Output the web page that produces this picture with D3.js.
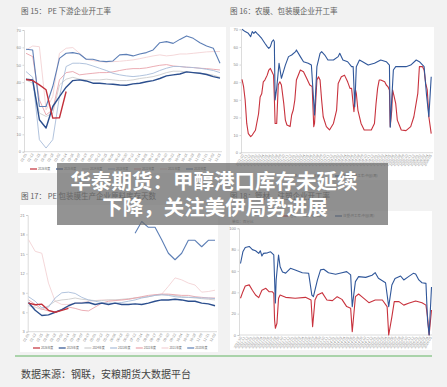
<!DOCTYPE html>
<html>
  <head>
    <meta charset="utf-8">
    <style>
    body {
      margin: 0;
      background: #f2f2f2;
    }
    svg {
      display: block;
      font-family: "Noto Sans CJK SC", "Noto Sans", sans-serif;
    }
    </style>
  </head>
  <body>
    <script src="https://d3js.org/d3.v7.min.js"></script>
    <script>
    var width = 447,
      height = 387;

    // ---------- data ----------
    var yearNames = ["2026年度", "2025年度", "2024年度", "2023年度", "2022年度", "2021年度", "2020年度"];
    var dateTicks = ["01-01","01-13","01-25","02-06","02-18","03-02","03-14","03-26","04-07","04-19",
      "05-01","05-13","05-25","06-06","06-18","06-30","07-12","07-24","08-05","08-17",
      "08-29","09-10","09-22","10-04","10-16","10-28","11-09","11-21","12-03","12-15"];
    var monthTicks = ["2021-10","2021-11","2021-12",
      "2022-01","2022-02","2022-03","2022-04","2022-05","2022-06","2022-07","2022-08","2022-09","2022-10","2022-11","2022-12",
      "2023-01","2023-02","2023-03","2023-04","2023-05","2023-06","2023-07","2023-08","2023-09","2023-10","2023-11","2023-12",
      "2024-01","2024-02","2024-03","2024-04","2024-05","2024-06","2024-07","2024-08","2024-09","2024-10","2024-11","2024-12",
      "2025-01","2025-02","2025-03","2025-04","2025-05","2025-06","2025-07","2025-08","2025-09","2025-10","2025-11","2025-12",
      "2026-01","2026-02","2026-03","2026-04","2026-05"];

    // fig 15: PE downstream operating rate
    var pe2026 = [41.5, 40.9, 38.4, 35.6, 19.3, 19.5, 34.6];
    var pe2025 = [41.7, 41.3, 18.4, 13.6, 26.0, 31.7, 37.1, 40.9, 41.3, 40.7, 39.4, 39.4, 39.0, 38.8, 38.4, 38.2, 39.0, 39.4, 40.2, 40.9, 42.1, 43.6, 44.2, 44.7, 45.9, 45.5, 45.1, 44.4, 43.2, 42.3];
    var pe2024 = [41.3, 39.4, 22.2, 20.3, 22.0, 38.4, 41.7, 42.8, 41.7, 41.3, 41.3, 41.3, 41.7, 41.3, 40.9, 40.9, 41.3, 42.1, 42.6, 43.2, 44.2, 45.5, 46.3, 46.3, 45.9, 45.5, 45.1, 44.7, 44.0, 42.8];
    var pe2023 = [46.1, 42.8, 6.9, 2.1, 6.9, 31.7, 49.0, 50.9, 50.9, 50.5, 49.3, 48.0, 46.7, 45.1, 44.2, 43.6, 43.2, 43.6, 44.2, 45.1, 46.7, 48.0, 49.0, 49.0, 48.6, 48.4, 48.0, 47.4, 46.7, 45.5];
    var pe2022 = [56.6, 54.7, 29.8, 21.2, 24.1, 41.3, 45.5, 46.1, 44.2, 44.7, 45.1, 45.5, 45.5, 45.9, 46.7, 47.4, 47.8, 47.8, 48.2, 49.0, 49.7, 50.1, 49.3, 49.0, 48.6, 48.4, 48.0, 47.8, 47.4, 47.0];
    var pe2021 = [58.5, 60.8, 60.4, 24.1, 31.7, 56.6, 59.5, 59.9, 56.6, 53.2, 52.4, 51.8, 51.6, 51.8, 52.0, 52.4, 52.8, 53.5, 54.3, 55.1, 55.7, 55.1, 55.5, 56.2, 56.2, 56.6, 57.0, 57.4, 57.6, 57.6];
    var pe2020 = [58.9, 58.5, 26.0, 26.0, 37.5, 53.7, 56.6, 57.0, 56.2, 53.2, 53.2, 52.2, 51.8, 52.2, 55.7, 56.0, 55.1, 56.2, 57.0, 58.5, 62.7, 63.3, 62.3, 64.6, 66.6, 65.2, 62.7, 60.8, 59.5, 50.9];

    // fig 17: PE packaging film producers
    var pk2026 = [7.4, 7.15, 7.25, 6.3, 6.0, 6.3, 6.6];
    var pk2025 = [7.5, 6.3, 5.5, 5.6, 6.0, 6.4, 7.0, 7.4, 7.4, 7.5, 7.2, 7.4, 7.2, 7.4, 7.2, 7.2, 7.3, 7.2, 7.4, 7.7, 7.9, 7.9, 8.0, 7.9, 7.7, 7.7, 7.4, 7.3, 7.0];
    var pk2024 = [7.0, 6.8, 6.4, 7.0, 7.7, 7.9, 8.0, 8.2, 8.0, 7.9, 7.8, 7.8, 7.9, 7.9, 8.0, 8.1, 8.2, 8.3, 8.4, 8.6, 8.7, 8.7, 8.6, 8.4, 8.3, 8.2, 8.1, 8.0, 7.9];
    var pk2023 = [8.4, 7.7, 6.7, 6.8, 8.2, 9.0, 9.1, 8.9, 8.3, 7.9, 7.7, 7.5, 7.4, 7.4, 7.5, 7.7, 7.9, 8.2, 8.4, 8.6, 8.7, 8.6, 8.4, 8.3, 8.3, 8.3, 8.2, 8.2, 8.1];
    var pk2022 = [7.9, 7.2, 6.5, 6.2, 6.0, 6.4, 6.8, 6.6, 6.3, 6.2, 6.8, 7.4, 7.7, 7.8, 7.9, 8.0, 8.2, 8.4, 8.6, 8.7, 8.8, 8.8, 8.7, 8.6, 8.6, 8.4, 8.3, 8.2, 8.2];
    var pk2021 = [17.2, 15.4, 15.1, 10.5, 7.7, 7.2, 7.2, 7.4, 7.5, 7.7, 7.8, 7.9, 7.9, 7.9, 7.9, 8.0, 8.2, 8.3, 8.4, 8.7, 8.8, 10.0, 11.3, 11.0, 10.5, 10.2, 9.1, 9.2, 9.4];
    var pk2020 = [null, null, null, null, null, null, null, null, null, null, null, null, null, null, null, null, 18.2, 20.0, 19.1, 19.1, 17.2, 15.1, 14.1, 15.1, 17.1, 17.1, 16.1, 17.1, 17.1];

    // fig 16: agricultural film / packaging film (weekly, week index)
    var agriWeek = [0,2,4,6,8,11,13,17,21,23,25,27,29,32,34,36,38,40,41,42,44,46,48,50,53,55,57,61,63,65,67,69,74,78,82,86,89,91,92,95,97,99,101,103,107,111,116,120,122,126,130,134,137,139,142,144,145,147,151,155,164,168,170,172,174,176,181,183,185,187,188,190,191,193,195,197,202,208,214,218,223,225,229,231,233,235,237,240];
    var agriRate = [41.6,37.5,29.9,16.6,10.8,9.1,10.0,12.7,22.1,31.6,33.4,40.2,41.2,44.0,46.9,47.8,45.9,44.0,31.6,16.6,16.6,38.6,40.2,38.4,27.8,18.5,15.7,14.8,21.4,24.2,29.9,41.2,46.9,45.9,42.2,38.4,37.5,14.8,16.6,41.2,43.1,41.2,29.9,20.4,14.8,12.9,16.6,24.2,39.3,43.1,44.0,40.2,36.5,36.5,23.3,35.6,33.7,24.2,16.6,12.9,12.9,16.6,27.8,36.5,41.2,41.2,40.2,38.4,37.5,35.6,14.8,24.2,35.6,31.8,27.8,18.5,12.9,12.5,14.8,20.4,33.7,48.8,48.8,46.9,39.3,35.6,20.4,10.8];
    var packWeek = [0,4,8,11,13,15,17,19,21,25,29,32,34,36,38,40,41,42,44,47,50,55,59,63,68,69,74,78,84,88,92,95,99,101,105,109,116,122,124,128,134,139,141,143,145,149,153,160,168,176,183,187,188,192,195,202,208,214,221,225,231,234,237,240];
    var packRate = [70.0,68.7,67.7,65.8,68.7,67.7,68.7,67.7,66.8,64.8,62.1,60.2,59.2,60.2,63.0,64.0,63.0,29.9,36.5,50.7,42.2,49.7,54.5,55.4,57.3,58.3,54.5,51.6,50.7,49.7,21.4,48.8,56.4,57.3,55.4,52.6,52.6,54.5,56.4,52.6,51.6,48.8,48.8,26.1,48.8,52.6,51.6,49.7,50.7,52.6,51.6,49.7,14.4,46.9,48.8,48.8,48.8,49.7,52.6,51.6,48.8,33.0,20.4,43.1];

    // fig 18: pipe / injection (weekly, week index)
    var pipeWeek = [0,3,6,11,15,19,23,27,32,36,40,42,43,44,46,48,50,53,57,69,82,89,91,94,97,103,109,116,122,128,134,139,141,145,149,153,162,170,179,185,187,191,194,200,206,212,221,229,234,236,238,241];
    var pipeRate = [34.4,40.6,46.0,47.0,42.0,37.5,35.0,42.0,43.8,40.6,40.6,39.0,14.0,6.3,11.0,34.4,37.5,36.6,35.3,34.4,35.3,32.8,7.8,32.8,37.5,39.7,32.8,32.2,35.9,33.4,26.6,25.0,3.0,35.9,38.4,35.9,30.3,32.8,32.8,26.6,0,17.0,31.3,31.3,28.0,29.7,31.9,30.3,28.0,17.0,0,23.4];
    var injWeek = [0,3,6,11,15,19,23,25,27,29,34,38,42,44,45,48,50,53,57,63,69,78,86,90,92,97,101,105,111,120,128,134,139,141,145,149,158,166,170,174,183,187,191,195,202,206,212,218,221,225,229,234,236,238,241];
    var injRate = [67,78,82,83,80,79,76.5,79,74,76.5,77,78,75,30,51.5,75,64,59,58,62.5,61,58.4,57.8,37.5,36,51.5,61,61.6,58.4,56.9,58.4,59.4,56.3,26.6,50,54.7,54,56,58.4,53.1,49,26.6,46.9,53,55.3,51.6,54.7,57.8,57.2,51.6,49,48.4,14,0,45];

    // ---------- styles ----------
    var yearColors = ["#c3303a", "#2c4f8e", "#cdcdcd", "#a8bcd9", "#e9a4ac", "#f3d2d5", "#5d7fb6"];
    var yearWidths = [1.4, 1.4, 0.9, 0.9, 0.9, 0.9, 1.1];
    var drawOrder = [5, 2, 4, 3, 6, 1, 0];
    var red = "#c8323d", blue = "#30579a";

    var svg = d3.select("body").append("svg")
        .attr("width", width)
        .attr("height", height);

    svg.append("rect").attr("width", width).attr("height", height).attr("fill", "#f2f2f2");

    function panel(x, y, w, h) {
      svg.append("rect").attr("x", x).attr("y", y).attr("width", w).attr("height", h).attr("fill", "#fff");
    }

    function title(x, y, t) {
      svg.append("text").attr("x", x).attr("y", y)
        .attr("font-size", 7.5).attr("fill", "#606060").text(t);
    }

    function yAxis(scale, ticks, x) {
      var g = svg.append("g").attr("transform", "translate(" + x + ",0)")
        .call(d3.axisLeft(scale).tickValues(ticks).tickSize(1.5).tickPadding(1.5));
      g.select(".domain").attr("stroke", "#c4c4c4").attr("stroke-width", 0.6);
      g.selectAll(".tick line").attr("stroke", "#bbb").attr("stroke-width", 0.6);
      g.selectAll(".tick text").attr("font-size", 4).attr("fill", "#888");
    }

    function xAxis(pos, labels, y, x0, x1) {
      svg.append("line").attr("x1", x0).attr("x2", x1).attr("y1", y).attr("y2", y)
        .attr("stroke", "#c4c4c4").attr("stroke-width", 0.6);
      svg.append("g").selectAll("text").data(labels).join("text")
        .attr("transform", function(d, i){ return "translate(" + pos(i) + "," + (y + 2) + ") rotate(-60)"; })
        .attr("text-anchor", "end")
        .attr("dy", "0.35em")
        .attr("font-size", 3.5)
        .attr("fill", "#888")
        .text(function(d){ return d; });
    }

    function legend(names, colors, x0, step, y, fs) {
      var g = svg.append("g");
      names.forEach(function(n, i){
        var x = x0 + i * step;
        g.append("line").attr("x1", x).attr("x2", x + 7).attr("y1", y).attr("y2", y)
          .attr("stroke", colors[i]).attr("stroke-width", 1.2);
        g.append("text").attr("x", x + 8).attr("y", y).attr("dy", "0.35em")
          .attr("font-size", fs).attr("fill", "#666").text(n);
      });
    }

    function yearChart(series, x, y) {
      var line = d3.line()
        .defined(function(d){ return d != null; })
        .x(function(d, i){ return x(i); })
        .y(function(d){ return y(d); });
      drawOrder.forEach(function(k){
        svg.append("path").datum(series[k])
          .attr("fill", "none")
          .attr("stroke", yearColors[k])
          .attr("stroke-width", yearWidths[k])
          .attr("stroke-linejoin", "round")
          .attr("d", line);
      });
    }

    function weekLine(weeks, vals, x, y, color) {
      var pts = weeks.map(function(w, i){ return [w, vals[i]]; });
      svg.append("path").datum(pts)
        .attr("fill", "none")
        .attr("stroke", color)
        .attr("stroke-width", 1.1)
        .attr("stroke-linejoin", "round")
        .attr("d", d3.line().x(function(d){ return x(d[0]); }).y(function(d){ return y(d[1]); }));
    }

    // ---------- fig 15 (top left) ----------
    title(21, 14, "图 15：  PE 下游企业开工率");
    panel(18, 27, 208, 146);
    var x15 = d3.scaleLinear().domain([0, 29]).range([26, 220]);
    var y15 = d3.scaleLinear().domain([0, 70]).range([151.7, 30]);
    yAxis(y15, d3.range(0, 71, 10), 24);
    xAxis(function(i){ return x15(i); }, dateTicks, 151.7, 24, 222);
    yearChart([pe2026, pe2025, pe2024, pe2023, pe2022, pe2021, pe2020], x15, y15);
    legend(yearNames, yearColors, 30, 26, 169, 2.9);

    // ---------- fig 16 (top right) ----------
    title(230, 14, "图 16：农膜、包装膜企业开工率");
    panel(230, 27, 204, 153);
    var x16 = d3.scaleLinear().domain([0, 241]).range([242, 432]);
    var y16 = d3.scaleLinear().domain([0, 70]).range([152.7, 29.3]);
    var m16 = d3.scaleLinear().domain([0, monthTicks.length - 1]).range([243, 431]);
    yAxis(y16, d3.range(0, 71, 10), 241);
    xAxis(function(i){ return m16(i); }, monthTicks, 152.7, 241, 433);
    weekLine(agriWeek, agriRate, x16, y16, red);
    weekLine(packWeek, packRate, x16, y16, blue);
    legend(["农膜:开工率:中国(周)", "包装膜:开工率:中国(周)"], [red, blue], 282, 53, 176, 3.4);

    // ---------- fig 17 (bottom left) ----------
    title(21, 199, "图 17：  PE 包装膜生产企业原料库存天数");
    panel(20, 205, 198, 147);
    var x17 = d3.scaleLinear().domain([0, 28]).range([28.5, 215]);
    var y17 = d3.scaleLinear().domain([3, 21]).range([331.7, 215]);
    yAxis(y17, d3.range(3, 22, 3), 27.7);
    xAxis(function(i){ return x17(i); }, dateTicks.slice(0, 29), 331.7, 27.7, 217);
    yearChart([pk2026, pk2025, pk2024, pk2023, pk2022, pk2021, pk2020], x17, y17);
    legend(yearNames, yearColors, 33, 25.7, 348, 2.9);

    // ---------- fig 18 (bottom right) ----------
    title(230, 199, "图 18：管材、注塑企业开工率");
    panel(230, 211, 202, 139);
    svg.append("text").attr("x", 232).attr("y", 223).attr("font-size", 3.6).attr("fill", "#777").text("单位：百分比");
    var x18 = d3.scaleLinear().domain([0, 241]).range([240.5, 431.5]);
    var y18 = d3.scaleLinear().domain([0, 100]).range([335, 228.3]);
    var m18 = d3.scaleLinear().domain([0, monthTicks.length - 1]).range([241, 431]);
    yAxis(y18, d3.range(0, 101, 20), 239);
    xAxis(function(i){ return m18(i); }, monthTicks, 335, 239, 432);
    weekLine(pipeWeek, pipeRate, x18, y18, red);
    weekLine(injWeek, injRate, x18, y18, blue);
    legend(["管材:开工率:中国(周)", "注塑:开工率:中国(周)"], [red, blue], 282, 53, 216, 3.4);

    // ---------- footer ----------
    svg.append("line").attr("x1", 15).attr("x2", 432).attr("y1", 356).attr("y2", 356)
      .attr("stroke", "#63b463").attr("stroke-width", 1);
    svg.append("text").attr("x", 21).attr("y", 378)
      .attr("font-size", 10).attr("fill", "#444")
      .text("数据来源：钢联，安粮期货大数据平台");

    // ---------- headline banner ----------
    svg.append("rect").attr("x", 57).attr("y", 163).attr("width", 331).attr("height", 62)
      .attr("fill", "#6a6a6a").attr("opacity", 0.72);
    var head = svg.append("g")
      .attr("font-size", 20.5)
      .attr("font-weight", "bold")
      .attr("fill", "#fff")
      .attr("text-anchor", "middle");
    head.append("text").attr("x", 214).attr("y", 189).text("华泰期货：甲醇港口库存未延续");
    head.append("text").attr("x", 215).attr("y", 214.5).text("下降，关注美伊局势进展");
    </script>
  </body>
</html>
